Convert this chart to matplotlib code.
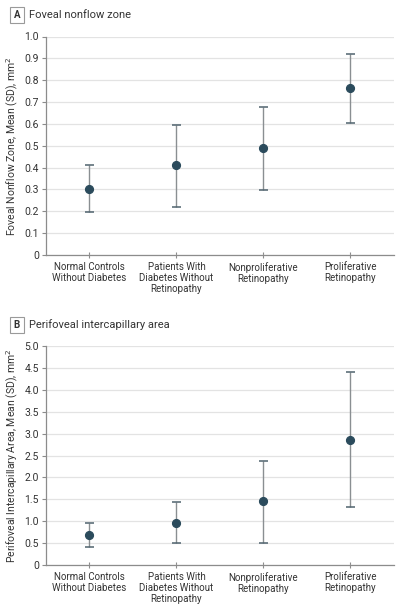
import matplotlib
matplotlib.use("Agg")
import matplotlib.pyplot as plt
import numpy as np

plt.rcParams['font.family'] = ['Roboto', 'DejaVu Sans']

categories = ["Normal Controls\nWithout Diabetes",
              "Patients With\nDiabetes Without\nRetinopathy",
              "Nonproliferative\nRetinopathy",
              "Proliferative\nRetinopathy"]

fnz_mean = [0.30, 0.41, 0.49, 0.763]
fnz_upper = [0.412, 0.597, 0.676, 0.918]
fnz_lower = [0.195, 0.221, 0.299, 0.602]

pia_mean = [0.685, 0.967, 1.454, 2.85]
pia_upper = [0.967, 1.44, 2.38, 4.41]
pia_lower = [0.41, 0.495, 0.51, 1.32]

fnz_ticks = [0, 0.1, 0.2, 0.3, 0.4, 0.5, 0.6, 0.7, 0.8, 0.9, 1.0]
pia_ticks = [0, 0.5, 1.0, 1.5, 2.0, 2.5, 3.0, 3.5, 4.0, 4.5, 5.0]

W, H = 402, 611
fig = plt.figure(figsize=(W/100, H/100), dpi=100)

marker_color = "#2b4b5c"
err_color = "#8a8f92"
cap_color = "#4f636e"
grid_color = "#e3e3e3"
spine_color = "#8c8c8c"
text_color = "#333333"

def px_axes(left, top, right, bottom):
    return fig.add_axes([left/W, (H-bottom)/H, (right-left)/W, (bottom-top)/H])

def draw(ax, mean, lower, upper, ticks, ylabel):
    x = np.arange(len(mean))
    mean = np.array(mean); lower = np.array(lower); upper = np.array(upper)
    ax.vlines(x, lower, upper, color=err_color, lw=1.0, zorder=2)
    ax.hlines(upper, x - 0.055, x + 0.055, color=cap_color, lw=1.1, zorder=3)
    ax.hlines(lower, x - 0.055, x + 0.055, color=cap_color, lw=1.1, zorder=3)
    ax.plot(x, mean, 'o', color=marker_color, ms=5.6, zorder=4)
    ax.set_xlim(-0.5, len(mean) - 0.5)
    ax.set_ylim(ticks[0], ticks[-1])
    ax.set_yticks(ticks)
    ax.set_yticklabels(["0" if t == 0 else f"{t:.1f}" for t in ticks])
    ax.set_xticks(x)
    ax.set_xticklabels(categories, linespacing=1.1)
    ax.grid(axis='y', color=grid_color, lw=0.9, zorder=0)
    ax.set_axisbelow(True)
    for s in ['top', 'right']:
        ax.spines[s].set_visible(False)
    for s in ['left', 'bottom']:
        ax.spines[s].set_color(spine_color)
        ax.spines[s].set_linewidth(0.9)
    ax.tick_params(axis='y', length=3, width=0.8, color=spine_color, labelsize=7.5,
                   labelcolor=text_color, pad=2)
    ax.tick_params(axis='x', length=4, width=0.8, color=spine_color, labelsize=7.0,
                   labelcolor=text_color, direction='inout', pad=3)
    ax.set_ylabel(ylabel, fontsize=7.5, color=text_color, labelpad=3)

axA = px_axes(46, 36.5, 394, 255)
draw(axA, fnz_mean, fnz_lower, fnz_upper, fnz_ticks,
     "Foveal Nonflow Zone, Mean (SD), mm$^2$")
axB = px_axes(46, 346, 394, 565)
draw(axB, pia_mean, pia_lower, pia_upper, pia_ticks,
     "Perifoveal Intercapillary Area, Mean (SD), mm$^2$")

def panel_title(letter, title, ytop):
    fig.text(17/W, (H-ytop)/H, letter, fontsize=7, fontweight='bold', color=text_color,
             ha='center', va='center',
             bbox=dict(boxstyle='square,pad=0.35', fc='white', ec='#9a9a9a', lw=0.8))
    fig.text(29/W, (H-ytop)/H, title, fontsize=8, color=text_color, ha='left', va='center')

panel_title("A", "Foveal nonflow zone", 15)
panel_title("B", "Perifoveal intercapillary area", 325)

fig.savefig("out.png", dpi=100)
